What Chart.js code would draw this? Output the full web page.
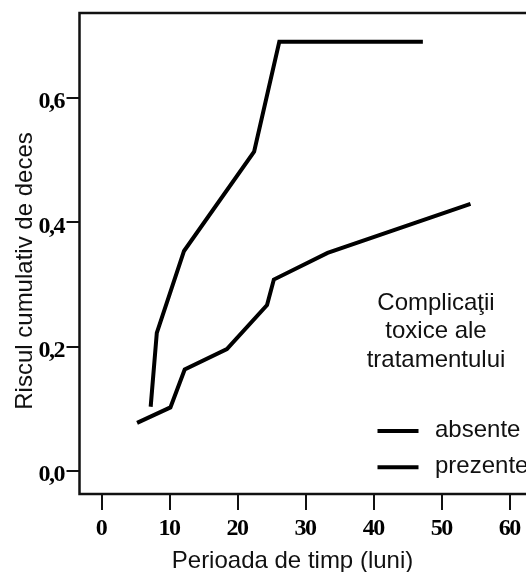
<!DOCTYPE html>
<html>
<head>
<meta charset="utf-8">
<script src="https://cdn.jsdelivr.net/npm/chart.js@4"></script>
<style>
  html, body { margin: 0; padding: 0; background: #fff; overflow: hidden; }
  #wrap { width: 546px; height: 572px; }
</style>
</head>
<body>
<div id="wrap"><canvas id="c" width="546" height="572"></canvas></div>
<script>
// values
const monthsAbsente = [5.2, 10.1, 12.2, 18.4, 24.3, 25.3, 33.2, 54.2];
const riskAbsente = [0.077, 0.102, 0.163, 0.196, 0.267, 0.308, 0.351, 0.430];
const monthsPrezente = [7.2, 8.1, 12.1, 22.4, 26.1, 47.2];
const riskPrezente = [0.103, 0.222, 0.354, 0.514, 0.691, 0.691];
const seriesLabels = ['absente', 'prezente'];
const xTicks = [0, 10, 20, 30, 40, 50, 60];
const yTicks = [0, 0.2, 0.4, 0.6];
const xTitle = 'Perioada de timp (luni)';
const yTitle = 'Riscul cumulativ de deces';
const legendTitle = ['Complicaţii', 'toxice ale', 'tratamentului'];

const toPoints = (xs, ys) => xs.map((x, i) => ({ x: x, y: ys[i] }));
const fmtY = v => v.toFixed(1).replace('.', ',');

const sans = '"Liberation Sans", Arial, sans-serif';
const serif = '"Liberation Serif", "Times New Roman", serif';

// tight bold tick labels like the original (Chart.js has no letter spacing option)
function drawTight(ctx, text, x, y, align) {
  ctx.save();
  ctx.letterSpacing = '-1.5px';
  ctx.textAlign = align;
  ctx.fillText(text, align === 'right' ? x - 1.5 : x - 0.75, y);
  ctx.restore();
}

// frame around the plot + tick labels + axis titles + legend block
const decorations = {
  id: 'decorations',
  afterDatasetsDraw(chart) {
    const { ctx, chartArea } = chart;
    const xs = chart.scales.x, ys = chart.scales.y;
    ctx.save();
    ctx.strokeStyle = '#111';
    ctx.lineWidth = 2.5;
    ctx.strokeRect(chartArea.left, chartArea.top, chartArea.right - chartArea.left, chartArea.bottom - chartArea.top);

    ctx.fillStyle = '#000';
    ctx.font = 'bold 24px ' + serif;
    ctx.textBaseline = 'middle';
    xs.ticks.forEach(t => drawTight(ctx, String(t.value), xs.getPixelForValue(t.value), 528.5, 'center'));
    ys.ticks.forEach(t => drawTight(ctx, fmtY(t.value), 65.5, ys.getPixelForValue(t.value) + 4, 'right'));

    ctx.fillStyle = '#111';
    ctx.font = '24px ' + sans;
    ctx.textAlign = 'center';
    ctx.textBaseline = 'alphabetic';
    ctx.fillText(xTitle, 292.5, 568);

    ctx.save();
    ctx.translate(31.5, 271);
    ctx.rotate(-Math.PI / 2);
    ctx.fillText(yTitle, 0, 0);
    ctx.restore();

    legendTitle.forEach((line, i) => {
      ctx.fillText(line, 436, 310 + i * 28.3);
    });

    ctx.textAlign = 'left';
    chart.data.datasets.forEach((ds, i) => {
      const y = 431 + i * 36.2;
      ctx.strokeStyle = ds.borderColor;
      ctx.lineWidth = 4;
      ctx.beginPath();
      ctx.moveTo(377.5, y);
      ctx.lineTo(418.5, y);
      ctx.stroke();
      ctx.fillText(ds.label, 435, y + 6);
    });
    ctx.restore();
  }
};

new Chart(document.getElementById('c'), {
  type: 'line',
  data: {
    datasets: [
      {
        label: seriesLabels[0],
        data: toPoints(monthsAbsente, riskAbsente),
        borderColor: '#000',
        borderWidth: 4,
        pointRadius: 0,
        tension: 0,
        fill: false
      },
      {
        label: seriesLabels[1],
        data: toPoints(monthsPrezente, riskPrezente),
        borderColor: '#000',
        borderWidth: 4,
        pointRadius: 0,
        tension: 0,
        fill: false
      }
    ]
  },
  options: {
    responsive: false,
    animation: false,
    layout: { padding: { top: 13, right: 2, left: 0, bottom: 0 } },
    scales: {
      x: {
        type: 'linear',
        min: -3.26,
        max: 65,
        afterBuildTicks: axis => { axis.ticks = xTicks.map(v => ({ value: v })); },
        afterFit: axis => { axis.height = 78; },
        border: { display: false },
        grid: { drawOnChartArea: false, drawTicks: true, tickLength: 16, color: '#111', lineWidth: 2 },
        ticks: { display: false, autoSkip: false }
      },
      y: {
        type: 'linear',
        min: -0.0375,
        max: 0.7374,
        afterBuildTicks: axis => { axis.ticks = yTicks.map(v => ({ value: v })); },
        afterFit: axis => { axis.width = 79.5; },
        border: { display: false },
        grid: { drawOnChartArea: false, drawTicks: true, tickLength: 13, color: '#111', lineWidth: 2 },
        ticks: { display: false, autoSkip: false, callback: fmtY }
      }
    },
    plugins: {
      legend: { display: false },
      tooltip: { enabled: false }
    }
  },
  plugins: [decorations]
});
</script>
</body>
</html>
